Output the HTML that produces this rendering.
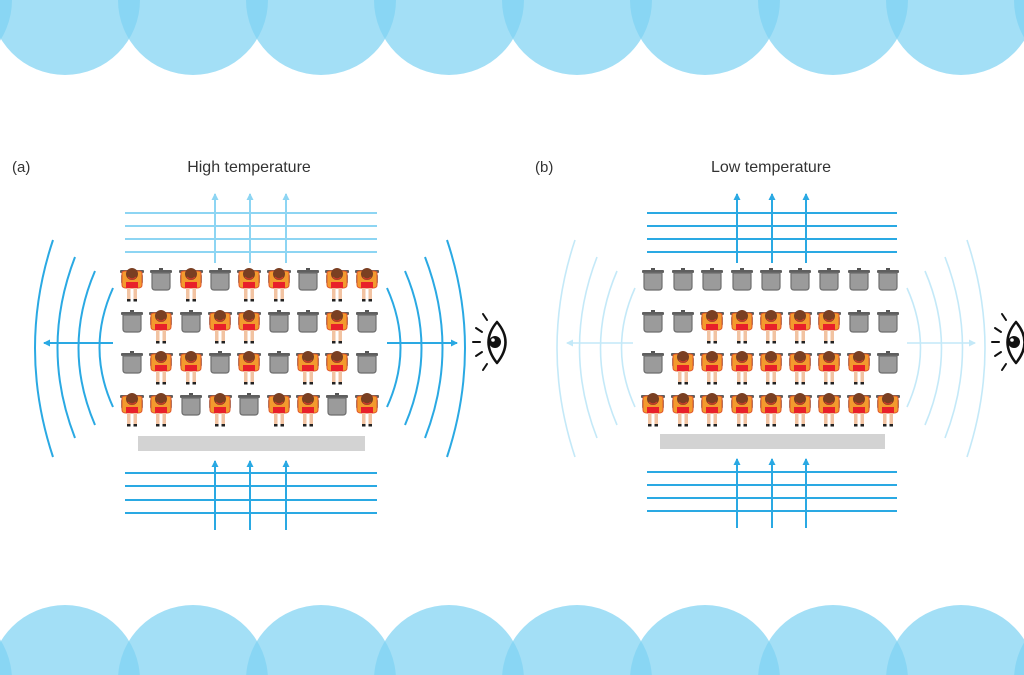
<!DOCTYPE html>
<html><head><meta charset="utf-8"><style>
html,body{margin:0;padding:0;background:#fff;width:1024px;height:675px;overflow:hidden;}
svg{display:block;}
text{font-family:"Liberation Sans",Arial,sans-serif;fill:#333;}
</style></head><body>
<svg width="1024" height="675" viewBox="0 0 1024 675" xmlns="http://www.w3.org/2000/svg">
<defs>
<symbol id="chair" overflow="visible">
  <rect x="-2" y="0" width="4" height="2" fill="#555"/>
  <rect x="-11" y="2" width="22" height="3" rx="1" fill="#5f5f5f"/>
  <path d="M-9,5 H9 V19 Q9,22 6,22 H-6 Q-9,22 -9,19 Z" fill="#9b9b9b" stroke="#6e6e6e" stroke-width="1.2"/>
</symbol>
<symbol id="person" overflow="visible">
  <rect x="-12" y="2" width="24" height="3" rx="1" fill="#5f5f5f"/>
  <rect x="-11" y="5" width="22" height="12" rx="3" fill="#8a8a8a"/>
  <path d="M-10,5 Q-10,3 -6,3 H6 Q10,3 10,5 V17 Q10,20 6,20 H-6 Q-10,20 -10,17 Z" fill="#f39a2e" stroke="#e2562a" stroke-width="1"/>
  <rect x="-6" y="14" width="12" height="6" fill="#e8202a"/>
  <rect x="-5" y="20" width="3.5" height="11" fill="#f2c3a2"/>
  <rect x="1.5" y="20" width="3.5" height="11" fill="#f2c3a2"/>
  <rect x="-5" y="31" width="3.5" height="2.5" fill="#222"/>
  <rect x="1.5" y="31" width="3.5" height="2.5" fill="#222"/>
  <circle cx="0" cy="6" r="6" fill="#7a3f22"/>
  <path d="M-4,9 Q0,13 4,9" fill="none" stroke="#d23a2a" stroke-width="1.2"/>
</symbol>
<marker id="ah" markerWidth="7" markerHeight="7" refX="6" refY="3.5" orient="auto" markerUnits="userSpaceOnUse"><path d="M0,0 L7,3.5 L0,7 Z" fill="context-stroke"/></marker>
<symbol id="eye" overflow="visible">
  <path d="M0,-20 Q17,0 0,21 Q-17,0 0,-20 Z" fill="none" stroke="#111" stroke-width="2.5" stroke-linejoin="round"/>
  <circle cx="-2" cy="0" r="6" fill="#111"/>
  <circle cx="-4" cy="-2" r="1.8" fill="#fff"/>
  <g stroke="#111" stroke-width="2" stroke-linecap="round">
    <line x1="-10" y1="-22" x2="-14" y2="-28"/>
    <line x1="-15" y1="-10" x2="-21" y2="-14"/>
    <line x1="-17" y1="0" x2="-24" y2="0"/>
    <line x1="-15" y1="10" x2="-21" y2="14"/>
    <line x1="-10" y1="22" x2="-14" y2="28"/>
  </g>
</symbol>
</defs>

<g fill="#7fd3f2" fill-opacity="0.72">
<circle cx="-63" cy="0" r="75"/><circle cx="65" cy="0" r="75"/><circle cx="193" cy="0" r="75"/><circle cx="321" cy="0" r="75"/><circle cx="449" cy="0" r="75"/><circle cx="577" cy="0" r="75"/><circle cx="705" cy="0" r="75"/><circle cx="833" cy="0" r="75"/><circle cx="961" cy="0" r="75"/><circle cx="1089" cy="0" r="75"/>
<circle cx="-63" cy="680" r="75"/><circle cx="65" cy="680" r="75"/><circle cx="193" cy="680" r="75"/><circle cx="321" cy="680" r="75"/><circle cx="449" cy="680" r="75"/><circle cx="577" cy="680" r="75"/><circle cx="705" cy="680" r="75"/><circle cx="833" cy="680" r="75"/><circle cx="961" cy="680" r="75"/><circle cx="1089" cy="680" r="75"/>
</g>

<text x="12" y="172" font-size="15">(a)</text>
<text x="249" y="172" font-size="16" text-anchor="middle">High temperature</text>
<text x="535" y="172" font-size="15">(b)</text>
<text x="771" y="172" font-size="16" text-anchor="middle">Low temperature</text>

<g stroke="#8dd5f3" stroke-width="2">
  <line x1="125" y1="213" x2="377" y2="213"/><line x1="125" y1="226" x2="377" y2="226"/>
  <line x1="125" y1="239" x2="377" y2="239"/><line x1="125" y1="252" x2="377" y2="252"/>
  <line x1="215" y1="263" x2="215" y2="194" marker-end="url(#ah)"/>
  <line x1="250" y1="263" x2="250" y2="194" marker-end="url(#ah)"/>
  <line x1="286" y1="263" x2="286" y2="194" marker-end="url(#ah)"/>
</g>
<g stroke="#2aa9e3" stroke-width="2" fill="none">
  <line x1="125" y1="473" x2="377" y2="473"/><line x1="125" y1="486" x2="377" y2="486"/>
  <line x1="125" y1="500" x2="377" y2="500"/><line x1="125" y1="513" x2="377" y2="513"/>
  <line x1="215" y1="530" x2="215" y2="461" marker-end="url(#ah)"/>
  <line x1="250" y1="530" x2="250" y2="461" marker-end="url(#ah)"/>
  <line x1="286" y1="530" x2="286" y2="461" marker-end="url(#ah)"/>
  <path d="M53,240 Q17,348 53,457"/>
  <path d="M75,257 Q40,348 75,438"/>
  <path d="M95,271 Q62,348 95,425"/>
  <path d="M113,288 Q86,348 113,407"/>
  <path d="M447,240 Q483,348 447,457"/>
  <path d="M425,257 Q460,348 425,438"/>
  <path d="M405,271 Q438,348 405,425"/>
  <path d="M387,288 Q414,348 387,407"/>
  <line x1="113" y1="343" x2="44" y2="343" marker-end="url(#ah)"/>
  <line x1="387" y1="343" x2="457" y2="343" marker-end="url(#ah)"/>
</g>
<use href="#eye" x="497" y="342"/>

<g stroke="#2aa9e3" stroke-width="2">
  <line x1="647" y1="213" x2="897" y2="213"/><line x1="647" y1="226" x2="897" y2="226"/>
  <line x1="647" y1="239" x2="897" y2="239"/><line x1="647" y1="252" x2="897" y2="252"/>
  <line x1="737" y1="263" x2="737" y2="194" marker-end="url(#ah)"/>
  <line x1="772" y1="263" x2="772" y2="194" marker-end="url(#ah)"/>
  <line x1="806" y1="263" x2="806" y2="194" marker-end="url(#ah)"/>
  <line x1="647" y1="472" x2="897" y2="472"/><line x1="647" y1="485" x2="897" y2="485"/>
  <line x1="647" y1="498" x2="897" y2="498"/><line x1="647" y1="511" x2="897" y2="511"/>
  <line x1="737" y1="528" x2="737" y2="459" marker-end="url(#ah)"/>
  <line x1="772" y1="528" x2="772" y2="459" marker-end="url(#ah)"/>
  <line x1="806" y1="528" x2="806" y2="459" marker-end="url(#ah)"/>
</g>
<g stroke="#c4e9f8" stroke-width="1.6" fill="none">
  <path d="M575,240 Q539,348 575,457"/>
  <path d="M597,257 Q562,348 597,438"/>
  <path d="M617,271 Q584,348 617,425"/>
  <path d="M635,288 Q608,348 635,407"/>
  <path d="M967,240 Q1003,348 967,457"/>
  <path d="M945,257 Q980,348 945,438"/>
  <path d="M925,271 Q958,348 925,425"/>
  <path d="M907,288 Q934,348 907,407"/>
  <line x1="633" y1="343" x2="567" y2="343" marker-end="url(#ah)"/>
  <line x1="907" y1="343" x2="975" y2="343" marker-end="url(#ah)"/>
</g>
<use href="#eye" x="1016" y="342"/>

<rect x="138" y="436" width="227" height="15" fill="#d3d3d3"/>
<rect x="660" y="434" width="225" height="15" fill="#d3d3d3"/>

<g>
<use href="#person" x="132" y="268"/><use href="#chair" x="161" y="268"/><use href="#person" x="191" y="268"/><use href="#chair" x="220" y="268"/><use href="#person" x="249" y="268"/><use href="#person" x="279" y="268"/><use href="#chair" x="308" y="268"/><use href="#person" x="337" y="268"/><use href="#person" x="367" y="268"/>
<use href="#chair" x="132" y="310"/><use href="#person" x="161" y="310"/><use href="#chair" x="191" y="310"/><use href="#person" x="220" y="310"/><use href="#person" x="249" y="310"/><use href="#chair" x="279" y="310"/><use href="#chair" x="308" y="310"/><use href="#person" x="337" y="310"/><use href="#chair" x="367" y="310"/>
<use href="#chair" x="132" y="351"/><use href="#person" x="161" y="351"/><use href="#person" x="191" y="351"/><use href="#chair" x="220" y="351"/><use href="#person" x="249" y="351"/><use href="#chair" x="279" y="351"/><use href="#person" x="308" y="351"/><use href="#person" x="337" y="351"/><use href="#chair" x="367" y="351"/>
<use href="#person" x="132" y="393"/><use href="#person" x="161" y="393"/><use href="#chair" x="191" y="393"/><use href="#person" x="220" y="393"/><use href="#chair" x="249" y="393"/><use href="#person" x="279" y="393"/><use href="#person" x="308" y="393"/><use href="#chair" x="337" y="393"/><use href="#person" x="367" y="393"/>
</g>
<g>
<use href="#chair" x="653" y="268"/><use href="#chair" x="683" y="268"/><use href="#chair" x="712" y="268"/><use href="#chair" x="742" y="268"/><use href="#chair" x="771" y="268"/><use href="#chair" x="800" y="268"/><use href="#chair" x="829" y="268"/><use href="#chair" x="859" y="268"/><use href="#chair" x="888" y="268"/>
<use href="#chair" x="653" y="310"/><use href="#chair" x="683" y="310"/><use href="#person" x="712" y="310"/><use href="#person" x="742" y="310"/><use href="#person" x="771" y="310"/><use href="#person" x="800" y="310"/><use href="#person" x="829" y="310"/><use href="#chair" x="859" y="310"/><use href="#chair" x="888" y="310"/>
<use href="#chair" x="653" y="351"/><use href="#person" x="683" y="351"/><use href="#person" x="712" y="351"/><use href="#person" x="742" y="351"/><use href="#person" x="771" y="351"/><use href="#person" x="800" y="351"/><use href="#person" x="829" y="351"/><use href="#person" x="859" y="351"/><use href="#chair" x="888" y="351"/>
<use href="#person" x="653" y="393"/><use href="#person" x="683" y="393"/><use href="#person" x="712" y="393"/><use href="#person" x="742" y="393"/><use href="#person" x="771" y="393"/><use href="#person" x="800" y="393"/><use href="#person" x="829" y="393"/><use href="#person" x="859" y="393"/><use href="#person" x="888" y="393"/>
</g>
</svg>
</body></html>
